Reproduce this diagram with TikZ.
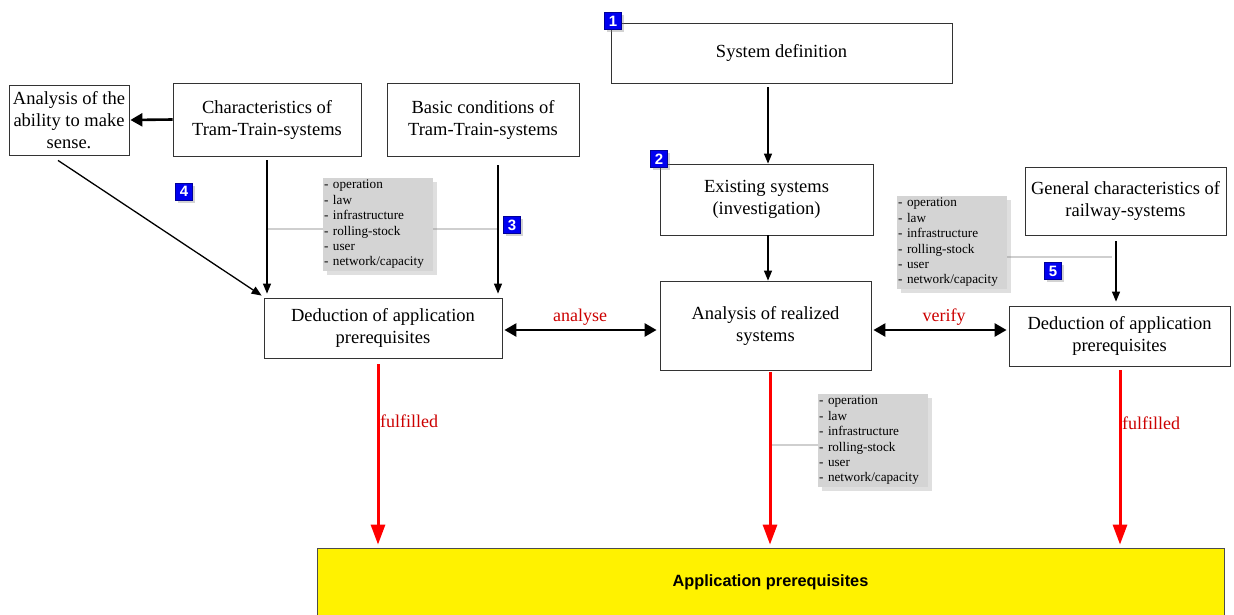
\documentclass[tikz,border=0pt]{standalone}
\usepackage{fontspec}
\setmainfont{Liberation Serif}
\newfontfamily\arialfont{Liberation Sans}
\usetikzlibrary{arrows.meta,shadows,calc}
\definecolor{infogray}{HTML}{D4D4D4}
\definecolor{linegray}{HTML}{CFCFCF}
\definecolor{lblred}{HTML}{CC0000}
\definecolor{badgeblue}{HTML}{0000F0}
\tikzset{
  box/.style={draw=black!80, line width=0.8pt, fill=white, align=center, inner sep=0pt,
    font=\fontsize{18.5}{22}\selectfont},
  badge/.style={fill=badgeblue, draw=blue!60!black, line width=0.4pt, text=white,
    font=\arialfont\bfseries\fontsize{15}{15}\selectfont, minimum size=17pt, inner sep=0pt,
    drop shadow={shadow xshift=2.5pt, shadow yshift=-2.5pt, opacity=0.35}},
  info/.style={fill=infogray, align=left, anchor=north west, inner xsep=1pt, inner ysep=2pt,
    font=\fontsize{13.2}{15.4}\selectfont, text width=108pt,
    drop shadow={shadow xshift=4pt, shadow yshift=-4pt, opacity=0.25}},
  thinarr/.style={draw=black, line width=1.3pt, -{Triangle[width=8pt,length=10pt]}},
  thickarr/.style={draw=black, line width=2.6pt, -{Triangle[width=13pt,length=12pt]}},
  dblarr/.style={draw=black, line width=2.6pt, {Triangle[width=13pt,length=12pt]}-{Triangle[width=13pt,length=12pt]}},
  redarr/.style={draw=red, line width=3pt, -{Triangle[width=14pt,length=20pt]}},
  conn/.style={draw=linegray, line width=1.5pt},
  lbl/.style={text=lblred, font=\fontsize{18}{20}\selectfont, inner sep=0pt},
}
\begin{document}
\begin{tikzpicture}[x=1pt,y=-1pt]
\useasboundingbox (0,0) rectangle (1234,615);

% boxes
\node[box, minimum width=341pt, minimum height=60pt] (sysdef) at (781.5,53) {System definition};
\node[box, minimum width=120pt, minimum height=70pt] (ana) at (69,120) {Analysis of the\\ability to make\\sense.};
\node[box, minimum width=188pt, minimum height=73pt] (char) at (267,119.5) {Characteristics of\\Tram-Train-systems};
\node[box, minimum width=192pt, minimum height=73pt] (basic) at (483,119.5) {Basic conditions of\\Tram-Train-systems};
\node[box, minimum width=213pt, minimum height=71pt] (exist) at (766.5,199.5) {Existing systems\\(investigation)};
\node[box, minimum width=201pt, minimum height=68pt] (gen) at (1125.5,201) {General characteristics of\\railway-systems};
\node[box, minimum width=238pt, minimum height=60pt] (dedL) at (383,328) {Deduction of application\\prerequisites};
\node[box, minimum width=211pt, minimum height=89pt] (anaR) at (765.5,325.5) {Analysis of realized\\systems};
\node[box, minimum width=221pt, minimum height=60pt] (dedR) at (1119.5,336) {Deduction of application\\prerequisites};
\node[draw=black!70, line width=0.8pt, fill=yellow, minimum width=907pt, minimum height=69pt,
  font=\arialfont\bfseries\fontsize{16.3}{18}\selectfont] (app) at (770.5,582.5) {Application prerequisites};

% gray connector lines
\coordinate (gL) at (0,229);
\draw[conn] (char.south |- gL) -- ($(basic.south |- gL)+(15,0)$);
\draw[conn] (1006,257) -- (1112,257);
\draw[conn] (772,445) -- (818,445);

% info boxes
\node[info] (infoL) at (323,178) {- operation\\- law\\- infrastructure\\- rolling-stock\\- user\\- network/capacity};
\node[info] (infoR) at (897,196) {- operation\\- law\\- infrastructure\\- rolling-stock\\- user\\- network/capacity};
\node[info] (infoB) at (818,394) {- operation\\- law\\- infrastructure\\- rolling-stock\\- user\\- network/capacity};

% badges
\node[badge] (b1) at (613,21) {1};
\node[badge] (b2) at (659,159) {2};
\node[badge] (b3) at (512,225) {3};
\node[badge] (b4) at (184,191.5) {4};
\node[badge] (b5) at (1053,271) {5};

% black arrows
\draw[thickarr] (char.west) -- ($(ana.east)+(1,0)$);
\draw[thinarr] ($(ana.south)+(-11,5)$) -- ($(dedL.north west)+(-2,-2)$);
\draw[thinarr] ($(char.south)+(0,4)$) -- ($(char.south |- dedL.north)+(0,-4)$);
\draw[thinarr] ($(basic.south)+(15,9)$) -- ($(basic.south |- dedL.north)+(15,-4)$);
\draw[thinarr] ($(exist.north |- sysdef.south)+(1.5,4)$) -- ($(exist.north)+(1.5,0)$);
\draw[thinarr] ($(exist.south)+(1.5,0)$) -- ($(exist.south |- anaR.north)+(1.5,0)$);
\draw[thinarr] ($(gen.south)+(-9.5,6)$) -- ($(gen.south |- dedR.north)+(-9.5,-4)$);

\coordinate (yA) at (0,330);
\draw[dblarr] ($(dedL.east |- yA)+(2,0)$) -- ($(anaR.west |- yA)+(-3,0)$);
\draw[dblarr] ($(anaR.east |- yA)+(2,0)$) -- ($(dedR.west |- yA)+(-2,0)$);
\node[lbl] (lanalyse) at (580,317) {analyse};
\node[lbl] (lverify) at (944,317) {verify};

% red arrows
\draw[redarr] ($(dedL.south)+(-5,6)$) -- ($(app.north)+(-392.5,-3)$);
\draw[redarr] ($(anaR.south)+(4.5,2)$) -- ($(app.north)+(-0.5,-3)$);
\draw[redarr] ($(dedR.south)+(0.5,4)$) -- ($(app.north)+(349.5,-3)$);
\node[lbl, anchor=west] (lful1) at (380,421) {fulfilled};
\node[lbl, anchor=west] (lful2) at (1122,423) {fulfilled};
\end{tikzpicture}
\end{document}
